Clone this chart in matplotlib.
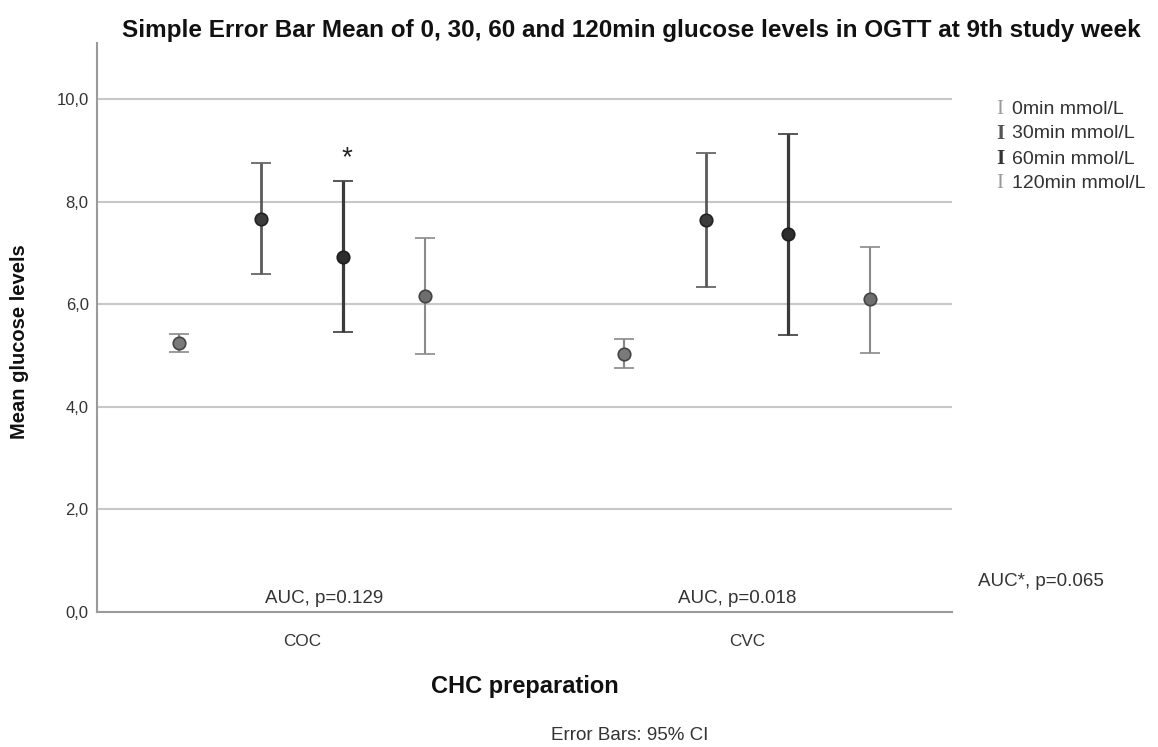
import numpy as np
import matplotlib.pyplot as plt

plt.rcParams['font.family'] = ['Liberation Sans', 'DejaVu Sans']

# SPSS style error bar chart, means with 95% CI
groups = ["COC", "CVC"]
series = ["0min mmol/L", "30min mmol/L", "60min mmol/L", "120min mmol/L"]

mean_coc = [5.25, 7.67, 6.93, 6.17]
low_coc = [5.07, 6.60, 5.46, 5.04]
high_coc = [5.43, 8.76, 8.40, 7.30]

mean_cvc = [5.04, 7.65, 7.37, 6.10]
low_cvc = [4.76, 6.34, 5.40, 5.05]
high_cvc = [5.32, 8.96, 9.33, 7.13]

p_labels = ["AUC, p=0.129", "AUC, p=0.018"]
yticks = [0, 2, 4, 6, 8, 10]

# styles per series
offsets = [-0.276, -0.092, 0.092, 0.276]
bar_cols = ["#8a8a8a", "#5a5a5a", "#3a3a3a", "#8a8a8a"]
bar_lw = [1.6, 2.0, 2.3, 1.5]
mk_face = ["#7a7a7a", "#3c3c3c", "#2e2e2e", "#6e6e6e"]
mk_edge = ["#444444", "#222222", "#1e1e1e", "#444444"]
leg_cols = ["#9a9a9a", "#555555", "#333333", "#999999"]

fig = plt.figure(figsize=(11.58, 7.47), dpi=100)
ax = fig.add_axes([97/1158, 1-612/747, (952-97)/1158, (612-43)/747])

means = np.array([mean_coc, mean_cvc])
lows = np.array([low_coc, low_cvc])
highs = np.array([high_coc, high_cvc])
xg = np.arange(len(groups))

for k in range(len(series)):
    x = xg + offsets[k]
    m = means[:, k]
    err = np.vstack([m - lows[:, k], highs[:, k] - m])
    ax.errorbar(x, m, yerr=err, fmt='o', color=bar_cols[k], ecolor=bar_cols[k],
                elinewidth=bar_lw[k], capsize=7.5, capthick=bar_lw[k],
                markersize=9, markerfacecolor=mk_face[k], markeredgecolor=mk_edge[k],
                markeredgewidth=1.2, zorder=3)

ax.set_xlim(-0.46, 1.46)
ax.set_ylim(0, 11.1)
ax.set_yticks(yticks)
ax.set_yticklabels([("%.1f" % v).replace(".", ",") for v in yticks], fontsize=12,
                   color="#333333")
ax.set_xticks(xg)
ax.set_xticklabels(groups, fontsize=12.3, color="#333333")
ax.tick_params(length=0)
ax.tick_params(axis='x', pad=16)
ax.tick_params(axis='y', pad=6)

ax.grid(axis='y', color="#c8c8c8", linewidth=1.5)
ax.set_axisbelow(True)
for s in ["top", "right"]:
    ax.spines[s].set_visible(False)
for s in ["left", "bottom"]:
    ax.spines[s].set_color("#9a9a9a")
    ax.spines[s].set_linewidth(1.5)

# significance star and AUC notes
ax.text(xg[0] + offsets[2] + 0.01, highs[0, 2] + 0.2, "*", ha='center', va='bottom',
        fontsize=20, color="#222222")
ax.text(xg[0] + 0.05, 0.27, p_labels[0], ha='center', va='center', fontsize=13.5,
        color="#333333")
ax.text(xg[1] - 0.022, 0.27, p_labels[1], ha='center', va='center', fontsize=13.5,
        color="#333333")
fig.text(1041/1158, 1-582/747, "AUC*, p=0.065", ha='center', va='center', fontsize=13.5,
         color="#333333")

# legend drawn as SPSS-like "I" glyphs
for k, lab in enumerate(series):
    y = 1 - (109 + k * 25) / 747
    fig.text(996/1158, y, "I", family="Liberation Serif", fontsize=15,
             color=leg_cols[k], ha='left', va='center',
             fontweight='bold' if k in (1, 2) else 'normal')
    fig.text(1012/1158, y, lab, fontsize=14, color="#333333", ha='left', va='center')

fig.text(631/1158, 1-30/747,
         "Simple Error Bar Mean of 0, 30, 60 and 120min glucose levels in OGTT at 9th study week",
         ha='center', va='center', fontsize=17.5, fontweight='bold', color="#111111")
fig.text(20/1158, 1-342/747, "Mean glucose levels", rotation=90, ha='center', va='center',
         fontsize=14.5, fontweight='bold', color="#111111")
fig.text(525/1158, 1-687/747, "CHC preparation", ha='center', va='center', fontsize=17,
         fontweight='bold', color="#111111")
fig.text(630/1158, 1-735/747, "Error Bars: 95% CI", ha='center', va='center', fontsize=13.5,
         color="#333333")

fig.savefig("out.png", dpi=100)
